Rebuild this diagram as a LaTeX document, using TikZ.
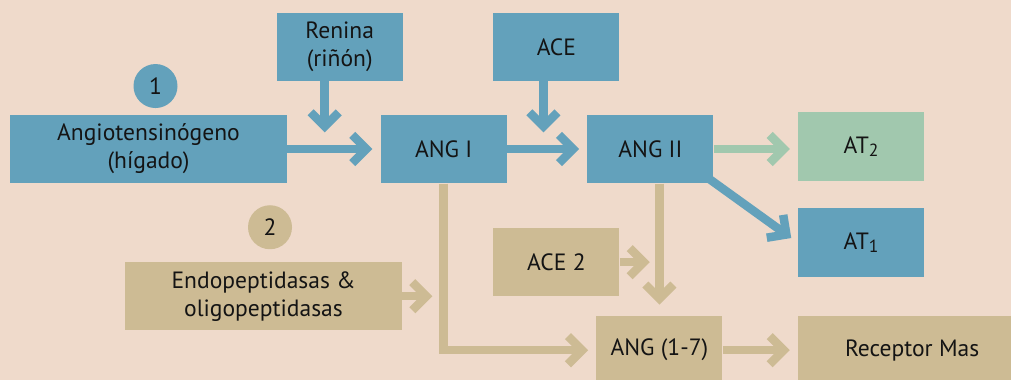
\documentclass[tikz,border=0pt]{standalone}
\usepackage{fontspec}
\setmainfont{PT Sans}
\usetikzlibrary{arrows.meta,positioning}
\definecolor{fondo}{RGB}{239,218,203}
\definecolor{azul}{RGB}{99,161,187}
\definecolor{verde}{RGB}{161,200,174}
\definecolor{arena}{RGB}{205,187,148}
\definecolor{tinta}{RGB}{20,20,20}
\newcommand{\subidx}[1]{\raisebox{-0.3ex}{\fontsize{10}{10}\selectfont#1}}

\begin{document}
\begin{tikzpicture}[>={Straight Barb[length=8pt,width=16pt]},
  font=\fontsize{13.4}{16}\selectfont,
  box/.style={fill=#1,text=tinta,align=center,inner sep=0pt,
    minimum width=2.52cm,minimum height=1.37cm},
  wide box/.style={box=#1,minimum width=5.54cm},
  num/.style={circle,fill=#1,text=tinta,inner sep=0pt,minimum size=0.88cm},
  flow/.style={#1,line width=0.17cm,->,shorten >=0.16cm}]

  \fill[fondo] (0,0) rectangle (20.22,7.6);
  \useasboundingbox (0,0) rectangle (20.22,7.6);

  \node[wide box=azul] (angio) at (2.97,4.62) {Angiotensinógeno\\(hígado)};
  \node[box=azul] (angI) [right=1.86cm of angio] {ANG I};
  \node[box=azul] (angII) [right=1.6cm of angI] {ANG II};
  \node[box=verde] (at2) [right=1.68cm of angII,yshift=0.05cm] {AT\subidx{2}};
  \node[box=azul] (at1) [below=0.54cm of at2] {AT\subidx{1}};
  \node[box=azul] (renina) [above=0.66cm of angI,xshift=-2.08cm] {Renina\\(riñón)};
  \node[box=azul] (ace) [above=0.66cm of angII,xshift=-1.88cm] {ACE};
  \node[box=arena] (ace2) [below=0.88cm of angII,xshift=-1.88cm] {ACE 2};
  \node[box=arena] (ang17) [below=2.64cm of angII,xshift=0.18cm] {ANG (1-7)};
  \node[box=arena,minimum width=4.56cm] (mas) [right=1.5cm of ang17] {Receptor Mas};
  \node[wide box=arena] (endo) [below=1.56cm of angio,xshift=2.3cm] {Endopeptidasas \&\\oligopeptidasas};
  \node[num=azul] (n1) [above=0.12cm of angio,xshift=0.14cm] {1};
  \node[num=arena] (n2) [above=0.24cm of endo,xshift=0.13cm] {2};

  % free ends of the enzyme arrows
  \coordinate (reninaTip) at ([xshift=-0.3cm,yshift=-1.02cm]renina.south);
  \coordinate (aceTip) at ([xshift=-0.26cm,yshift=-1.02cm]ace.south);
  \coordinate (endoTip) at ([xshift=0.6cm]endo.east);
  \coordinate (ace2Tip) at ([xshift=0.6cm]ace2.east);

  \path[flow=azul]
    (angio) edge (angI)
    (angI) edge (angII)
    (renina.south -| reninaTip) edge[shorten >=0pt] (reninaTip)
    (ace.south -| aceTip) edge[shorten >=0pt] (aceTip)
    ([xshift=-0.1cm,yshift=0.1cm]angII.south east) edge (at1.west);
  \path[flow=verde]
    (angII.east) edge (angII.east -| at2.west);
  \path[flow=arena]
    (endo) edge[shorten >=0pt] (endoTip)
    (ace2) edge[shorten >=0pt] (ace2Tip)
    (angII.south -| ang17) edge[shorten >=0.22cm] (ang17)
    (ang17) edge (mas);
  \draw[flow=arena] (angI) |- (ang17);
\end{tikzpicture}
\end{document}
